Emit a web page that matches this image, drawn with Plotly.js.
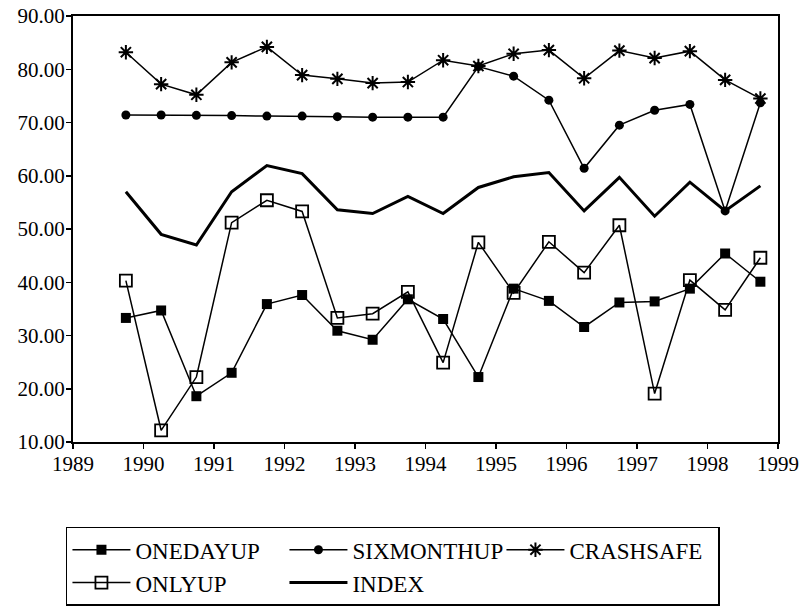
<!DOCTYPE html>
<html>
<head>
<meta charset="utf-8">
<script src="https://cdn.plot.ly/plotly-3.0.1.min.js"></script>
<style>html,body{margin:0;padding:0;background:#fff;}</style>
</head>
<body>
<div id="chart" style="width:804px;height:607px"></div>
<script>
// Half-year observation points
var years = [1989.75, 1990.25, 1990.75, 1991.25, 1991.75, 1992.25, 1992.75, 1993.25, 1993.75, 1994.25,
             1994.75, 1995.25, 1995.75, 1996.25, 1996.75, 1997.25, 1997.75, 1998.25, 1998.75];

var onedayup   = [33.3, 34.7, 18.6, 23.0, 35.9, 37.6, 30.9, 29.2, 36.8, 33.1,
                  22.2, 38.8, 36.5, 31.6, 36.2, 36.4, 38.8, 45.4, 40.1];
var onlyup     = [40.3, 12.2, 22.2, 51.2, 55.4, 53.3, 33.3, 34.1, 38.2, 24.9,
                  47.5, 38.0, 47.6, 41.8, 50.7, 19.1, 40.4, 34.8, 44.6];
var sixmonthup = [71.4, 71.4, 71.35, 71.3, 71.2, 71.2, 71.1, 71.0, 71.0, 71.0,
                  80.5, 78.7, 74.2, 61.4, 69.5, 72.3, 73.4, 53.4, 73.7];
var crashsafe  = [83.2, 77.2, 75.2, 81.3, 84.2, 78.9, 78.2, 77.4, 77.6, 81.7,
                  80.6, 82.9, 83.6, 78.3, 83.5, 82.1, 83.4, 78.0, 74.5];
var index      = [57.0, 49.0, 47.0, 57.0, 61.9, 60.4, 53.6, 52.9, 56.1, 52.9,
                  57.8, 59.8, 60.6, 53.4, 59.7, 52.4, 58.8, 53.4, 58.1];

var xTicks = [1989, 1990, 1991, 1992, 1993, 1994, 1995, 1996, 1997, 1998, 1999];
var yTicks = [10, 20, 30, 40, 50, 60, 70, 80, 90];

var FONT = 'Liberation Serif';

var traces = [
  {x: years, y: onedayup, name: 'ONEDAYUP', type: 'scatter', mode: 'lines+markers',
   line: {color: '#000', width: 1.5},
   marker: {symbol: 'square', size: 10, color: '#000'}},
  {x: years, y: sixmonthup, name: 'SIXMONTHUP', type: 'scatter', mode: 'lines+markers',
   line: {color: '#000', width: 1.5},
   marker: {symbol: 'circle', size: 9, color: '#000'}},
  {x: years, y: crashsafe, name: 'CRASHSAFE', type: 'scatter', mode: 'lines+markers',
   line: {color: '#000', width: 1.5},
   marker: {symbol: 'asterisk', size: 12, color: '#000', line: {color: '#000', width: 2}}},
  {x: years, y: onlyup, name: 'ONLYUP', type: 'scatter', mode: 'lines+markers',
   line: {color: '#000', width: 1.5},
   marker: {symbol: 'square-open', size: 12, color: '#000', line: {color: '#000', width: 1.8}}},
  {x: years, y: index, name: 'INDEX', type: 'scatter', mode: 'lines',
   line: {color: '#000', width: 3}}
];

var layout = {
  width: 804, height: 607,
  margin: {l: 73, r: 26, t: 16, b: 165, autoexpand: false},
  paper_bgcolor: '#fff', plot_bgcolor: '#fff',
  font: {family: FONT, color: '#000', size: 21},
  showlegend: true,
  xaxis: {
    range: [1989, 1999], tickvals: xTicks, ticktext: xTicks.map(String),
    showgrid: false, zeroline: false,
    showline: true, linecolor: '#000', linewidth: 2, mirror: true,
    ticks: 'outside', ticklen: 5, tickwidth: 1.5, tickcolor: '#000',
    ticklabelstandoff: -3
  },
  yaxis: {
    range: [10, 90], tickvals: yTicks, ticktext: yTicks.map(function(v){return v.toFixed(2);}),
    showgrid: false, zeroline: false,
    showline: true, linecolor: '#000', linewidth: 2, mirror: true,
    ticks: 'outside', ticklen: 5, tickwidth: 1.5, tickcolor: '#000',
    ticklabelstandoff: -3
  },
  legend: {
    orientation: 'h', x: -0.01, xanchor: 'left', y: -0.199, yanchor: 'top',
    bordercolor: '#000', borderwidth: 1.5, bgcolor: '#fff',
    font: {family: FONT, size: 23, color: '#000'},
    itemwidth: 58,
    entrywidth: 144, entrywidthmode: 'pixels', traceorder: 'normal'
  }
};

Plotly.newPlot('chart', traces, layout, {displayModeBar: false, staticPlot: true});
</script>
</body>
</html>
